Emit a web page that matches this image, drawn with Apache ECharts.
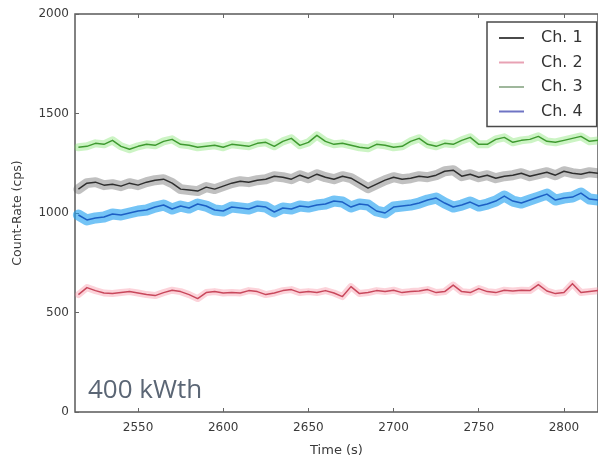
<!DOCTYPE html>
<html>
<head>
<meta charset="utf-8">
<script src="https://cdn.jsdelivr.net/npm/echarts@6/dist/echarts.min.js"></script>
<style>
  html, body { margin: 0; padding: 0; background: #fff; }
  #chart { width: 598px; height: 462px; }
</style>
</head>
<body>
<div id="chart"></div>
<script>
// Time samples (s), every 5 s
var times = [];
for (var t = 2515; t <= 2820; t += 5) times.push(t);

var ch1 = [1120,1150,1155,1140,1145,1135,1150,1140,1155,1165,
           1170,1150,1120,1115,1110,1130,1120,1135,1150,1160,
           1155,1165,1170,1185,1180,1170,1190,1175,1195,1180,
           1170,1185,1175,1150,1125,1145,1165,1180,1170,1175,
           1185,1180,1190,1210,1215,1185,1195,1180,1190,1175,
           1185,1190,1200,1185,1195,1205,1190,1210,1200,1195,
           1205,1200];
var ch2 = [590,625,610,598,595,600,605,598,590,585,
           600,612,605,590,570,600,605,598,600,598,
           610,605,590,598,610,615,600,605,600,610,
           598,580,630,595,600,610,605,612,600,605,
           608,615,600,605,638,605,600,620,605,600,
           612,608,612,610,640,608,595,600,645,600,
           605,610];
var ch3 = [1330,1335,1350,1345,1365,1335,1320,1335,1345,1340,
           1360,1370,1345,1340,1330,1335,1340,1330,1345,1340,
           1335,1350,1355,1335,1360,1375,1340,1355,1390,1360,
           1345,1350,1340,1330,1325,1345,1340,1330,1335,1360,
           1375,1345,1335,1350,1345,1365,1380,1345,1345,1370,
           1380,1355,1365,1370,1385,1360,1355,1365,1375,1385,
           1360,1365];
var ch4 = [990,965,975,980,995,990,1000,1010,1015,1030,
           1040,1020,1035,1025,1045,1035,1015,1010,1030,1025,
           1020,1035,1030,1005,1025,1020,1035,1030,1040,1045,
           1060,1055,1030,1045,1040,1010,1000,1030,1035,1040,
           1050,1065,1075,1050,1030,1040,1055,1035,1045,1060,
           1085,1060,1050,1065,1080,1095,1065,1075,1080,1100,
           1070,1065];

var xTicks = [2550, 2600, 2650, 2700, 2750, 2800];
var yTicks = [0, 500, 1000, 1500, 2000];

var channels = [
  { name: 'Ch. 1', values: ch1, line: '#2e2e2e', band: 'rgba(90,90,90,0.38)',   bandWidth: 10, legend: '#4a4a4a' },
  { name: 'Ch. 2', values: ch2, line: '#c8485c', band: 'rgba(245,130,150,0.35)', bandWidth: 7,  legend: '#e8a2b4' },
  { name: 'Ch. 3', values: ch3, line: '#3f9a30', band: 'rgba(120,225,100,0.38)', bandWidth: 8,  legend: '#9fb79c' },
  { name: 'Ch. 4', values: ch4, line: '#1d5fc4', band: 'rgba(30,160,240,0.62)',  bandWidth: 11, legend: '#6f74c4' }
];

function pairs(values) {
  return values.map(function (v, i) { return [times[i], v]; });
}

var series = [];
channels.forEach(function (c) {
  series.push({
    name: c.name + ' band', type: 'line', data: pairs(c.values),
    symbol: 'none', silent: true, z: 1,
    lineStyle: { color: c.band, width: c.bandWidth, join: 'round', cap: 'round' }
  });
});
channels.forEach(function (c) {
  series.push({
    name: c.name, type: 'line', data: pairs(c.values),
    symbol: 'none', z: 3, color: c.line,
    lineStyle: { color: c.line, width: 1.5, join: 'round' }
  });
});

var tickFont = { fontFamily: 'DejaVu Sans', fontSize: 12, color: '#3a3a3a' };
function plain(v) { return String(v); }

var chart = echarts.init(document.getElementById('chart'), null, { renderer: 'canvas' });
chart.setOption({
  animation: false,
  backgroundColor: '#fff',
  grid: { left: 75, top: 14, right: -3, bottom: 42, show: true, borderColor: '#5a5a5a', borderWidth: 1.5 },
  legend: {
    orient: 'vertical', left: 487, top: 22,
    data: channels.map(function (c) {
      return { name: c.name, icon: 'path://M0,0H25V2H0Z', itemStyle: { color: c.legend } };
    }),
    itemWidth: 25, itemHeight: 14, itemGap: 8.5,
    padding: [8, 14, 7, 12],
    borderColor: '#4a4a4a', borderWidth: 1.5, borderRadius: 0,
    textStyle: { fontFamily: 'DejaVu Sans', fontSize: 16, color: '#333', padding: [0, 0, 0, 12] }
  },
  xAxis: [{
    type: 'value', min: 2513, max: 2820,
    name: 'Time (s)', nameLocation: 'middle', nameGap: 32,
    nameTextStyle: { fontFamily: 'DejaVu Sans', fontSize: 13, color: '#3a3a3a' },
    axisLine: { show: false },
    axisTick: { inside: true, length: 4, customValues: xTicks, lineStyle: { color: '#666' } },
    axisLabel: Object.assign({ customValues: xTicks, margin: 10, formatter: plain }, tickFont),
    splitLine: { show: false }
  }, {
    type: 'value', min: 2513, max: 2820, position: 'top',
    axisLine: { show: false },
    axisTick: { inside: true, length: 4, customValues: xTicks, lineStyle: { color: '#666' } },
    axisLabel: { show: false },
    splitLine: { show: false }
  }],
  yAxis: {
    type: 'value', min: 0, max: 2000, interval: 500,
    name: 'Count-Rate (cps)', nameLocation: 'middle', nameGap: 51,
    nameTextStyle: { fontFamily: 'DejaVu Sans', fontSize: 12.5, color: '#3a3a3a' },
    axisLine: { show: false },
    axisTick: { inside: true, length: 4, customValues: yTicks, lineStyle: { color: '#666' } },
    axisLabel: Object.assign({ margin: 6, formatter: plain }, tickFont),
    splitLine: { show: false }
  },
  graphic: [{
    type: 'text', left: 88, top: 378,
    style: { text: '400 kWth', font: '26px "Open Sans"', fill: '#5b6675' }
  }],
  series: series
});
</script>
</body>
</html>
